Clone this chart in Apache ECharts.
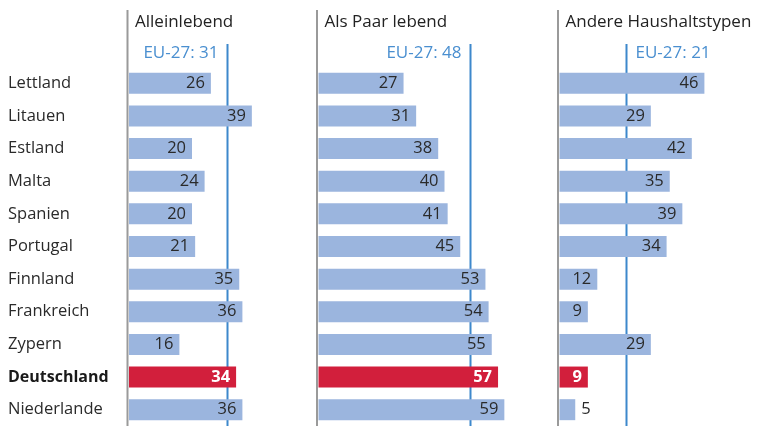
<!DOCTYPE html>
<html>
<head>
<meta charset="utf-8">
<script src="https://cdn.jsdelivr.net/npm/echarts@6/dist/echarts.min.js"></script>
<style>
  html, body { margin: 0; padding: 0; background: #fff; }
  #main { width: 764px; height: 426px; }
</style>
</head>
<body>
<div id="main"></div>
<script>
// Länder (von oben nach unten)
var countries = ['Lettland', 'Litauen', 'Estland', 'Malta', 'Spanien', 'Portugal',
    'Finnland', 'Frankreich', 'Zypern', 'Deutschland', 'Niederlande'];
var panelTitles = ['Alleinlebend', 'Als Paar lebend', 'Andere Haushaltstypen'];
var alleinlebend = [26, 39, 20, 24, 20, 21, 35, 36, 16, 34, 36];
var alsPaar = [27, 31, 38, 40, 41, 45, 53, 54, 55, 57, 59];
var andere = [46, 29, 42, 35, 39, 34, 12, 9, 29, 9, 5];
var euValues = [31, 48, 21];
var highlight = 'Deutschland';

var FONT = '"Open Sans", "Noto Sans", sans-serif';
var BLUE = '#9bb5de';
var RED = '#d21f3c';
var EU_BLUE = '#3d88cc';
var SCALE = 3.15; // px pro Prozentpunkt
var XMAX = 60;
var lefts = [129, 318.5, 559.5];

var chart = echarts.init(document.getElementById('main'));

function buildData(values) {
    return values.map(function (v, i) {
        var hi = countries[i] === highlight;
        var outside = v < 6;
        return {
            value: v,
            itemStyle: {color: hi ? RED : BLUE},
            label: {
                position: outside ? 'right' : 'insideRight',
                distance: 6,
                color: hi ? '#fff' : '#2a2a2a',
                fontWeight: hi ? 'bold' : 'normal'
            }
        };
    });
}

var grids = [], xAxes = [], yAxes = [], series = [];
[alleinlebend, alsPaar, andere].forEach(function (vals, p) {
    grids.push({left: lefts[p], top: 67, width: SCALE * XMAX, height: 363});
    xAxes.push({
        type: 'value', gridIndex: p, min: 0, max: XMAX,
        show: false
    });
    yAxes.push({
        type: 'category', gridIndex: p, data: countries, inverse: true,
        axisLine: {show: false}, axisTick: {show: false},
        axisLabel: p === 0 ? {
            show: true, align: 'left', margin: lefts[0] - 8,
            fontFamily: FONT, fontSize: 16.5, color: '#2a2a2a',
            formatter: function (v) {
                return v === highlight ? '{b|' + v + '}' : v;
            },
            rich: {b: {fontFamily: FONT, fontSize: 16, fontWeight: 'bold', color: '#1a1a1a'}}
        } : {show: false}
    });
    series.push({
        type: 'bar', xAxisIndex: p, yAxisIndex: p,
        barWidth: 21, z: 5,
        data: buildData(vals),
        label: {show: true, fontFamily: FONT, fontSize: 16.5},
        silent: true,
        animation: false
    });
});

chart.setOption({
    animation: false,
    grid: grids,
    xAxis: xAxes,
    yAxis: yAxes,
    series: series
});

// Achsenlinien, Titel und EU-Durchschnitt über die Skalen positionieren
var graphics = [];
for (var p = 0; p < 3; p++) {
    var x0 = chart.convertToPixel({xAxisIndex: p}, 0);
    var xe = Math.round(chart.convertToPixel({xAxisIndex: p}, euValues[p])) + 0.5;
    graphics.push({
        type: 'line', silent: true, z: 0,
        shape: {x1: x0 - 1.5, y1: 10, x2: x0 - 1.5, y2: 426},
        style: {stroke: '#9a9a9a', lineWidth: 2}
    });
    graphics.push({
        type: 'text', silent: true, x: x0 + 6, y: 22,
        style: {text: panelTitles[p], font: '17px ' + FONT, fill: '#222',
            verticalAlign: 'middle'}
    });
    graphics.push({
        type: 'line', silent: true, z: 0,
        shape: {x1: xe, y1: 44, x2: xe, y2: 426},
        style: {stroke: EU_BLUE, lineWidth: 2}
    });
    var right = p < 2;
    graphics.push({
        type: 'text', silent: true, x: right ? xe - 9 : xe + 9, y: 53,
        style: {text: 'EU-27: ' + euValues[p], font: '17px ' + FONT, fill: '#4a8fd0',
            align: right ? 'right' : 'left', verticalAlign: 'middle'}
    });
}
chart.setOption({graphic: graphics});
</script>
</body>
</html>
